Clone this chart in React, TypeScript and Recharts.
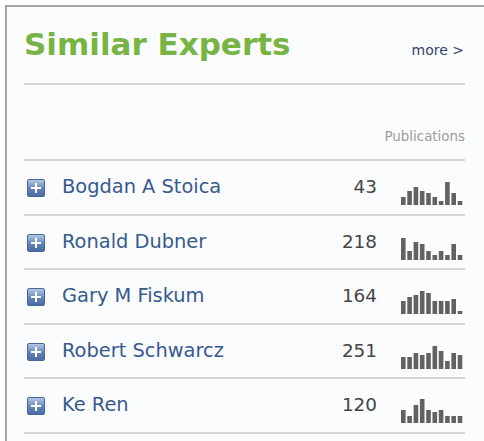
import { BarChart, Bar, XAxis, YAxis } from 'recharts'

const NAMES = ['Bogdan A Stoica', 'Ronald Dubner', 'Gary M Fiskum', 'Robert Schwarcz', 'Ke Ren']
const COUNTS = [43, 218, 164, 251, 120]
const PERIODS = ['1', '2', '3', '4', '5', '6', '7', '8', '9', '10']

// publication activity per period, one sparkline per expert
const SPARK_STOICA = [8, 14, 18, 14, 12, 8, 4, 23, 12, 4]
const SPARK_DUBNER = [22, 9, 18, 16, 9, 5, 9, 5, 16, 5]
const SPARK_FISKUM = [13, 17, 19, 23, 21, 13, 13, 13, 15, 3]
const SPARK_SCHWARCZ = [12, 12, 16, 14, 16, 23, 18, 8, 16, 14]
const SPARK_REN = [13, 7, 18, 24, 13, 11, 13, 7, 7, 7]

const SPARKS = [SPARK_STOICA, SPARK_DUBNER, SPARK_FISKUM, SPARK_SCHWARCZ, SPARK_REN]

const FONT = '"DejaVu Sans", Verdana, sans-serif'
const LINE = '#d5d5d5'

function Sparkline({ values }: { values: number[] }) {
  const data = PERIODS.map((p, i) => ({ period: p, v: values[i] }))
  return (
    <BarChart width={63} height={24} data={data} margin={{ top: 0, right: 0, bottom: 0, left: 0 }}>
      <XAxis dataKey="period" hide />
      <YAxis hide domain={[0, 24]} />
      <Bar dataKey="v" fill="#626262" barSize={4.6} isAnimationActive={false} />
    </BarChart>
  )
}

function PlusIcon() {
  return (
    <div
      style={{
        width: 16,
        height: 16,
        borderRadius: 2,
        border: '1px solid #45679a',
        background: 'linear-gradient(#b3c7e3, #6384ba 55%, #4a6ca3)',
        position: 'relative',
      }}
    >
      <div style={{ position: 'absolute', left: 3, top: 7, width: 10, height: 2, background: '#fff' }} />
      <div style={{ position: 'absolute', left: 7, top: 3, width: 2, height: 10, background: '#fff' }} />
    </div>
  )
}

export default function App() {
  const rowTop = (i: number) => 159 + i * 54.6
  return (
    <div style={{ position: 'absolute', left: 0, top: 0, width: 484, height: 441, overflow: 'hidden', background: '#fff' }}>
      <div
        style={{
          position: 'absolute',
          left: 5,
          top: 5,
          width: 520,
          height: 480,
          border: '2px solid #a3a3a3',
          background: '#fbfcfe',
        }}
      />
      <div style={{ position: 'absolute', left: 24, top: 26, fontFamily: FONT, fontWeight: 'bold', fontSize: 31, color: '#78b443', lineHeight: '36px', whiteSpace: 'nowrap' }}>
        Similar Experts
      </div>
      <div style={{ position: 'absolute', right: 20, top: 41, fontFamily: FONT, fontSize: 14, color: '#33416a', lineHeight: '18px' }}>
        more &gt;
      </div>
      <div style={{ position: 'absolute', left: 24, top: 83, width: 441, height: 2, background: LINE }} />
      <div style={{ position: 'absolute', right: 19, top: 128, fontFamily: FONT, fontSize: 13.4, color: '#9c9c9c', lineHeight: '18px' }}>
        Publications
      </div>
      {NAMES.map((name, i) => (
        <div key={name}>
          <div style={{ position: 'absolute', left: 24, top: rowTop(i), width: 441, height: 2, background: LINE }} />
          <div style={{ position: 'absolute', left: 27, top: rowTop(i) + 20 }}>
            <PlusIcon />
          </div>
          <div style={{ position: 'absolute', left: 62, top: rowTop(i) + 17, fontFamily: FONT, fontSize: 19.4, color: '#37598e', lineHeight: '22px', whiteSpace: 'nowrap' }}>
            {name}
          </div>
          <div style={{ position: 'absolute', right: 107, top: rowTop(i) + 17, fontFamily: FONT, fontSize: 18.4, color: '#454545', lineHeight: '22px' }}>
            {COUNTS[i]}
          </div>
          <div style={{ position: 'absolute', left: 400, top: rowTop(i) + 22 }}>
            <Sparkline values={SPARKS[i]} />
          </div>
        </div>
      ))}
      <div style={{ position: 'absolute', left: 24, top: rowTop(5), width: 441, height: 2, background: LINE }} />
    </div>
  )
}
